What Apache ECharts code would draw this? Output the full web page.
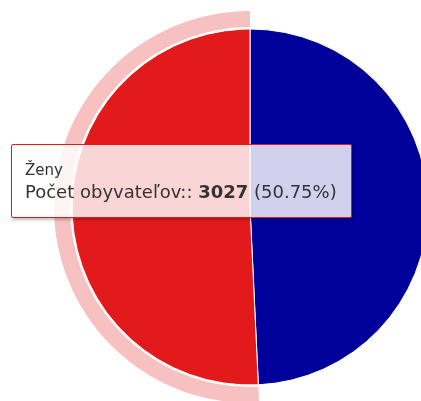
<!DOCTYPE html>
<html>
<head>
<meta charset="utf-8">
<script src="https://cdn.jsdelivr.net/npm/echarts@6/dist/echarts.min.js"></script>
<style>
html,body{margin:0;padding:0;background:#fff;}
#c{width:421px;height:401px;}
</style>
</head>
<body>
<div id="c"></div>
<script>
const categories = ['Muži', 'Ženy'];
const values = [2938, 3027];
const colors = ['#00009a', '#e31a1c'];
const valueLabel = 'Počet obyvateľov:';
const hoveredIndex = 1;

const chart = echarts.init(document.getElementById('c'), null, {renderer: 'canvas'});

const pieData = categories.map((name, i) => ({
  name: name, value: values[i], itemStyle: {color: colors[i]}
}));
const haloData = categories.map((name, i) => ({
  name: name, value: values[i],
  itemStyle: {color: i === hoveredIndex ? 'rgba(227,26,28,0.27)' : 'rgba(0,0,0,0)'}
}));

chart.setOption({
  animation: false,
  tooltip: {
    trigger: 'item',
    alwaysShowContent: true,
    transitionDuration: 0,
    position: [11, 144],
    backgroundColor: 'rgba(255,255,255,0.82)',
    borderColor: '#e31a1c',
    borderWidth: 1,
    borderRadius: 2,
    padding: [14, 14, 14, 13],
    extraCssText: 'box-shadow:1px 2px 3px rgba(0,0,0,0.25);',
    formatter: function (p) {
      return '<div style="font-family:\'DejaVu Sans\',sans-serif;color:#333;">' +
        '<div style="font-size:15px;line-height:22px;height:22px">' + p.name + '</div>' +
        '<div style="font-size:18px;line-height:22px;height:22px">' + valueLabel + ': <b>' + p.value + '</b> (' + p.percent.toFixed(2) + '%)</div>' +
        '</div>';
    }
  },
  series: [
    {
      type: 'pie',
      silent: true,
      center: [250, 207],
      radius: [180, 196],
      startAngle: 90,
      clockwise: true,
      label: {show: false},
      labelLine: {show: false},
      tooltip: {show: false},
      data: haloData,
      z: 1
    },
    {
      type: 'pie',
      center: [250, 207],
      radius: [0, 178],
      startAngle: 90,
      clockwise: true,
      label: {show: false},
      labelLine: {show: false},
      emphasis: {scale: false},
      itemStyle: {borderColor: '#fff', borderWidth: 1},
      data: pieData,
      z: 2
    }
  ]
});

chart.dispatchAction({type: 'showTip', seriesIndex: 1, dataIndex: hoveredIndex});
</script>
</body>
</html>
